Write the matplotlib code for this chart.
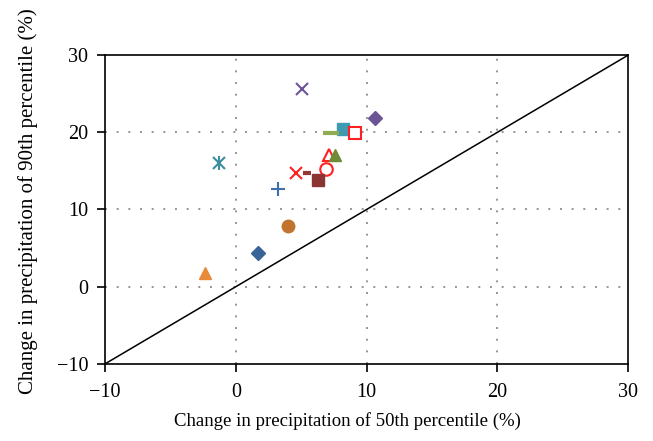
import matplotlib
matplotlib.use("Agg")
import matplotlib.pyplot as plt

plt.rcParams['font.family'] = ['Liberation Serif', 'DejaVu Serif']

# data (x: change in 50th percentile, y: change in 90th percentile)
x_vals = [5.05, 10.6, 8.2, 7.3, 9.1, 7.1, 7.6, 6.9, 4.6, 5.4, 6.3, -1.3, 3.2, 4.0, 1.7, -2.4]
y_vals = [25.6, 21.9, 20.4, 19.9, 19.9, 17.1, 17.1, 15.3, 14.7, 14.7, 13.8, 16.0, 12.7, 7.8, 4.3, 1.8]
markers = ['x', 'D', 's', '_', 's', '^', '^', 'o', 'x', '_', 's', '*x', '+', 'o', 'D', '^']
colors = ['#6B5594', '#6B5594', '#3E9AB0', '#8FAD50', '#FF2020', '#FF2020', '#6E8B35', '#FF2020',
          '#FF2020', '#953735', '#8B3434', '#3A8FA0', '#3F6FAF', '#C0742E', '#3A6497', '#E88A3A']
filled = [True, True, True, True, False, False, True, False, True, True, True, True, True, True, True, True]
sizes = [9, 7, 9, 12, 9, 9, 9, 9, 9, 6, 9, 10, 10, 9, 7, 9]

xticks = [-10, 0, 10, 20, 30]
yticks = [-10, 0, 10, 20, 30]
tick_labels = ['\u221210', '0', '10', '20', '30']

fig = plt.figure(figsize=(6.53, 4.41), dpi=100)
ax = fig.add_axes([0.161, 0.175, 0.801, 0.70])

for v in [0, 10, 20]:
    ax.axvline(v, color='#959595', lw=1.4, ls=(0, (1, 5)), zorder=0)
    ax.axhline(v, color='#959595', lw=1.4, ls=(0, (1, 5)), zorder=0)

ax.plot([-10, 30], [-10, 30], color='black', lw=1.1, zorder=1)

for x, y, m, c, f, s in zip(x_vals, y_vals, markers, colors, filled, sizes):
    if m == '*x':
        ax.plot(x, y, marker='x', color=c, ms=s * 0.9, mew=1.5, ls='none', zorder=3)
        ax.plot(x, y, marker='|', color=c, ms=s, mew=1.5, ls='none', zorder=3)
    elif m in ('x', '+', '_'):
        ax.plot(x, y, marker=m, color=c, ms=s, mew=(3 if m == '_' else 1.5), ls='none', zorder=3)
    elif f:
        ax.plot(x, y, marker=m, color=c, mfc=c, mec=c, ms=s, ls='none', zorder=3)
    else:
        ax.plot(x, y, marker=m, color=c, mfc='white', mec=c, mew=1.5, ms=s, ls='none', zorder=3)

ax.set_xlim(-10, 30)
ax.set_ylim(-10, 30)
ax.set_xticks(xticks)
ax.set_yticks(yticks)
ax.set_xticklabels(tick_labels)
ax.set_yticklabels(tick_labels)
ax.tick_params(direction='out', length=6, width=1.2, labelsize=14.5)
ax.tick_params(axis='x', pad=8)
ax.tick_params(axis='y', pad=6)
for sp in ax.spines.values():
    sp.set_linewidth(1.2)

ax.set_xlabel('Change in precipitation of 50th percentile (%)', fontsize=13.5)
ax.set_ylabel('Change in precipitation of 90th percentile (%)', fontsize=15)
ax.xaxis.set_label_coords(0.464, -0.155)
ax.yaxis.set_label_coords(-0.128, 0.527)

fig.savefig('out.png', dpi=100)
